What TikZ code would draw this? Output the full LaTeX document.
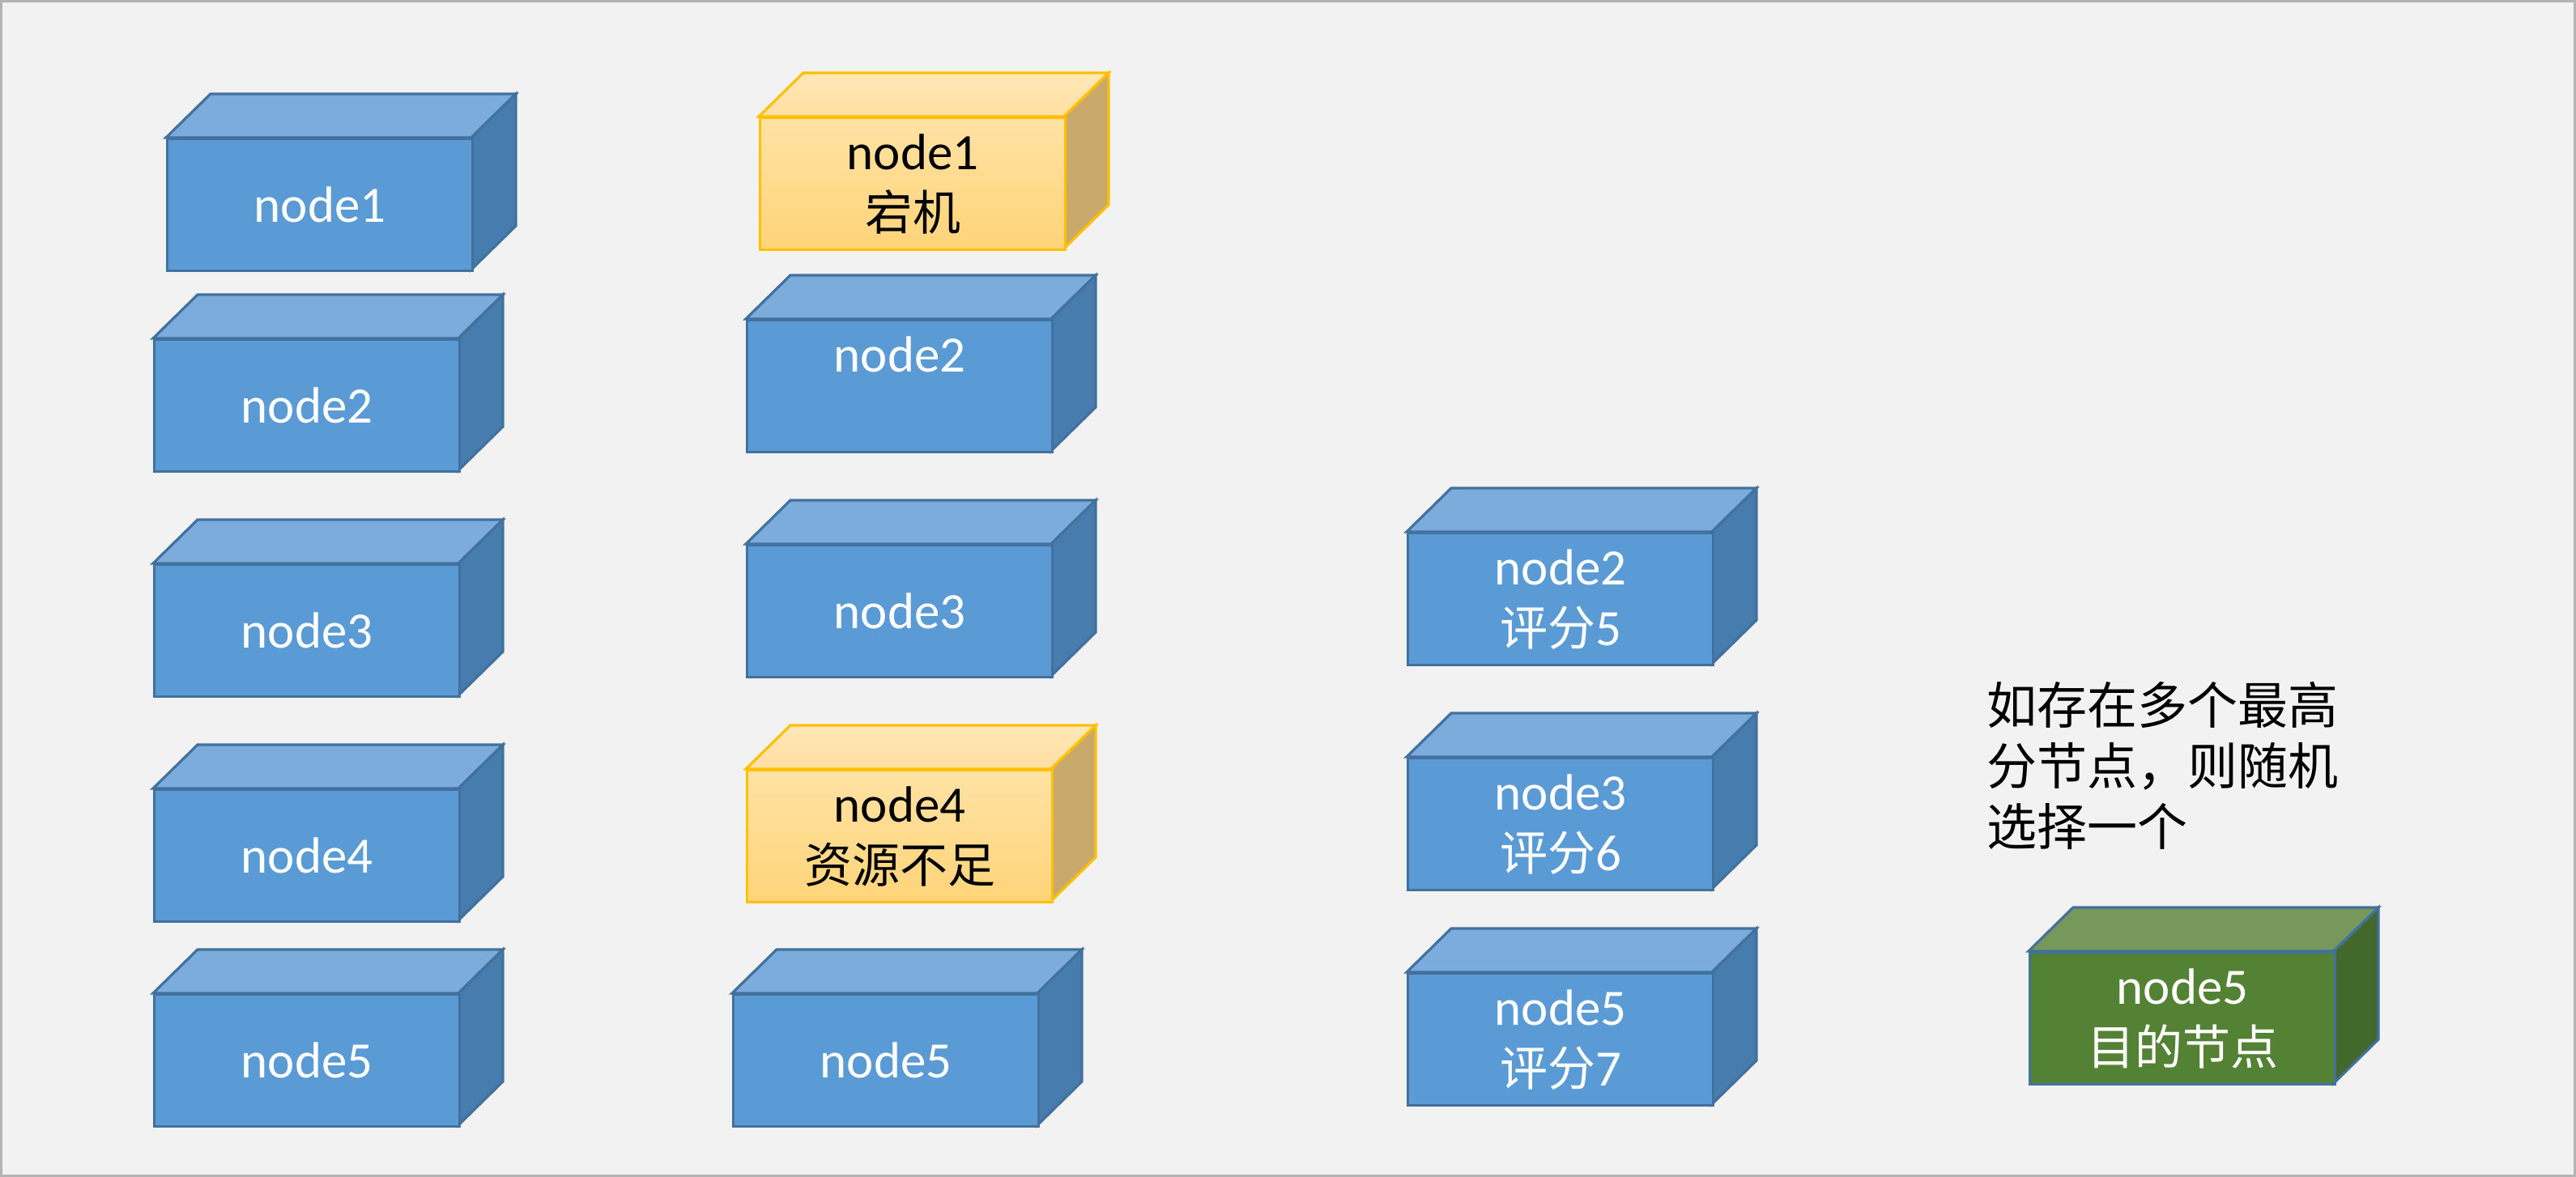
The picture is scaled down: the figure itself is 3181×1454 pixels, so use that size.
\documentclass[tikz,border=0pt]{standalone}
\usepackage{fontspec}
\setmainfont{Carlito}
\newfontfamily\cjk{Noto Sans CJK SC}
\definecolor{bgc}{HTML}{F2F2F2}
\definecolor{framec}{HTML}{B4B4B4}
\definecolor{bfront}{HTML}{5B9BD5}
\definecolor{btop}{HTML}{7BACDC}
\definecolor{bside}{HTML}{477DAE}
\definecolor{bedge}{HTML}{41719C}
\definecolor{gfront}{HTML}{548235}
\definecolor{gtop}{HTML}{76995B}
\definecolor{gside}{HTML}{43682B}
\definecolor{yfronttop}{HTML}{FFE2A4}
\definecolor{yfrontbot}{HTML}{FFD478}
\definecolor{ytop1}{HTML}{FFE7B6}
\definecolor{ytop2}{HTML}{FFDFA2}
\definecolor{yside}{HTML}{C9A96C}
\definecolor{yedge}{HTML}{FFC000}
\newcommand\zh[1]{{\cjk\fontsize{29.5}{37.5}\selectfont #1}}
\tikzset{
  x=0.5pt, y=-0.5pt,
  cubefront/.style={draw, line width=1.6pt, line join=miter, minimum width=188.5pt,
    minimum height=81.5pt, inner sep=0pt, anchor=north west, align=center,
    font=\fontsize{31.5}{37.5}\selectfont},
  bluetop/.style={fill=btop, draw=bedge, line width=1.6pt, line join=miter},
  blueside/.style={fill=bside, draw=bedge, line width=1.6pt, line join=miter},
  bluefront/.style={fill=bfront, draw=bedge, text=white},
  greentop/.style={fill=gtop, draw=bedge, line width=1.6pt, line join=miter},
  greenside/.style={fill=gside, draw=bedge, line width=1.6pt, line join=miter},
  greenfront/.style={fill=gfront, draw=bedge, text=white},
  yellowtop/.style={top color=ytop1, bottom color=ytop2, draw=yedge, line width=1.6pt, line join=miter},
  yellowside/.style={fill=yside, draw=yedge, line width=1.6pt, line join=miter},
  yellowfront/.style={top color=yfronttop, bottom color=yfrontbot, draw=yedge, text=black},
  notetext/.style={anchor=north west, align=left, inner sep=0pt,
    font=\cjk\fontsize{31}{37.5}\selectfont, text=black},
}
% name, x, y, kind, text
\newcommand\mkcube[5]{%
  \path[#4top] (#2,#3) -- ++(55,-54) -- ++(377,0) -- ++(-55,54) -- cycle;
  \path[#4side] (#2+377,#3) -- ++(55,-54) -- ++(0,163) -- ++(-55,54) -- cycle;
  \node[cubefront, #4front] (#1) at (#2,#3) {#5};
}
\begin{document}
\begin{tikzpicture}
\useasboundingbox (0,0) rectangle (3181,1454);
\fill[bgc] (0,0) rectangle (3181,1454);
\draw[framec, line width=1.5pt] (1.5,1.5) rectangle (3179.5,1452.5);

% left column
\mkcube{a1}{205}{170}{blue}{node1}
\mkcube{a2}{189}{418}{blue}{node2}
\mkcube{a3}{189}{696}{blue}{node3}
\mkcube{a4}{189}{974}{blue}{node4}
\mkcube{a5}{189}{1227}{blue}{node5}

% middle column
\mkcube{b1}{937}{144}{yellow}{node1\\\zh{宕机}}
\mkcube{b2}{921}{394}{blue}{node2\\\zh{\phantom{评}}}
\mkcube{b3}{921}{672}{blue}{node3}
\mkcube{b4}{921}{950}{yellow}{node4\\\zh{资源不足}}
\mkcube{b5}{904}{1227}{blue}{node5}

% right column
\mkcube{c2}{1737}{657}{blue}{node2\\\zh{评分}5}
\mkcube{c3}{1737}{935}{blue}{node3\\\zh{评分}6}
\mkcube{c5}{1737}{1201}{blue}{node5\\\zh{评分}7}

% target
\mkcube{d5}{2505}{1175}{green}{node5\\\zh{目的节点}}

\node[notetext] (note) at (2453,842) {如存在多个最高\\分节点，则随机\\选择一个};
\end{tikzpicture}
\end{document}
